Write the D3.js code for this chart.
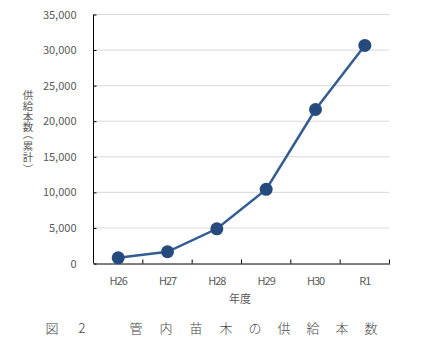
<!DOCTYPE html>
<html><head><meta charset="utf-8">
<script src="https://cdn.jsdelivr.net/npm/d3@7"></script>
<style>
html,body{margin:0;padding:0;background:#fff;}
svg{display:block;}
</style></head>
<body>
<script>
const categories = ["H26","H27","H28","H29","H30","R1"];
const values = [800, 1650, 4880, 10420, 21650, 30650];
const yTicks = [0,5000,10000,15000,20000,25000,30000,35000];
const yLabel = "供給本数（累計）";
const xLabel = "年度";
const caption = ["図","2","","管","内","苗","木","の","供","給","本","数"];

(function(){
const W=425,H=357;
const svg=d3.select("body").append("svg").attr("width",W).attr("height",H);
const pL=93.5,pR=389.5,pT=14.5,pB=263.5;
const x=d3.scaleBand().domain(categories).range([pL,pR]);
const y=d3.scaleLinear().domain([0,35000]).range([pB,pT]);
const font="'Noto Sans CJK JP','DejaVu Sans',sans-serif";

// gridlines
svg.append("g").selectAll("line").data(yTicks.filter(d=>d>0)).join("line")
 .attr("x1",pL).attr("x2",pR).attr("y1",d=>y(d)).attr("y2",d=>y(d))
 .attr("stroke","#d9d9d9").attr("stroke-width",1);

// y axis
const ya=svg.append("g").attr("transform",`translate(${pL},0)`)
 .call(d3.axisRight(y).tickValues(yTicks).tickSize(3).tickFormat(d3.format(",")));
ya.select(".domain").attr("stroke","#000").attr("d",`M0,${pT}V${pB}`);
ya.selectAll(".tick line").attr("stroke","#000");
ya.selectAll(".tick text").attr("x",-17).attr("text-anchor","end")
 .attr("font-family",font).attr("font-size",11).attr("fill","#595959");

// x axis
const xa=svg.append("g").attr("transform",`translate(0,${pB})`)
 .call(d3.axisBottom(x).tickSize(0).tickSizeOuter(0));
xa.select(".domain").attr("stroke","#000");
xa.selectAll(".tick text").attr("dy",0).attr("y",21)
 .attr("font-family",font).attr("font-size",11).attr("fill","#595959").attr("letter-spacing","-1px");
// tick marks at band boundaries, pointing inward
svg.append("g").selectAll("line").data(categories).join("line")
 .attr("x1",d=>x(d)+x.bandwidth()).attr("x2",d=>x(d)+x.bandwidth())
 .attr("y1",pB).attr("y2",pB-4).attr("stroke","#000");

// line
const cx=d=>x(d)+x.bandwidth()/2;
svg.append("path").datum(values)
 .attr("d",d3.line().x((d,i)=>cx(categories[i])).y(d=>y(d)))
 .attr("fill","none").attr("stroke","#335c92").attr("stroke-width",2.5);
svg.append("g").selectAll("circle").data(values).join("circle")
 .attr("cx",(d,i)=>cx(categories[i])).attr("cy",d=>y(d)).attr("r",6.5)
 .attr("fill","#254a7d");

// y label: one text element turned to run downward; each ideograph is
// counter-rotated so it stands upright, brackets stay turned (vertical forms)
const fs=10.5;
const chars=Array.from(yLabel);
const isParen=c=>c==="（"||c==="）";
let centers=[],cur=89.6;
chars.forEach(c=>{const adv=isParen(c)?8:10.8; centers.push(cur+adv/2); cur+=adv;});
const gx=chars.map((c,i)=>{
  if(c==="（") return centers[i]-0.75*fs;
  if(c==="）") return centers[i]-0.25*fs;
  return centers[i]+0.38*fs;
});
const gy=chars.map(c=>isParen(c)?-0.125*fs:0);
const gr=chars.map(c=>isParen(c)?0:-90);
svg.append("text")
 .attr("transform",`translate(${28-fs/2},0) rotate(90)`)
 .attr("x",gx.map(v=>v.toFixed(2)).join(" "))
 .attr("y",gy.map(v=>v.toFixed(2)).join(" "))
 .attr("rotate",gr.join(" "))
 .attr("font-family",font).attr("font-size",fs).attr("fill","#595959")
 .text(yLabel);

// x label
svg.append("text").attr("x",240).attr("y",303).attr("text-anchor","middle")
 .attr("font-family",font).attr("font-size",11).attr("fill","#595959").text(xLabel);

// caption
const capX=[52,82,null,136,166,196,226,255,284,313,342,371];
svg.append("g").selectAll("text").data(caption).join("text")
 .attr("x",(d,i)=>capX[i]).attr("y",333).attr("text-anchor","middle")
 .attr("font-family","'Noto Sans CJK JP',sans-serif").attr("font-size",13).attr("font-weight",300).attr("fill","#444")
 .text(d=>d);
})();
</script>
</body></html>
